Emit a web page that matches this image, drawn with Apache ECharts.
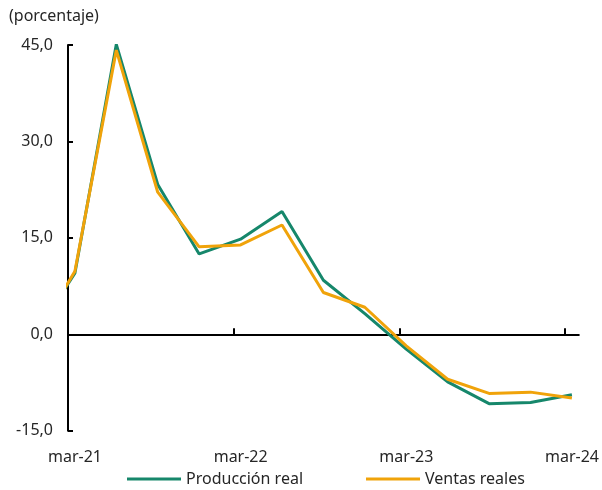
<!DOCTYPE html>
<html>
<head>
<meta charset="utf-8">
<script src="https://cdn.jsdelivr.net/npm/echarts@6/dist/echarts.min.js"></script>
<style>html,body{margin:0;padding:0;background:#fff;}#c{width:602px;height:490px;}</style>
</head>
<body>
<div id="c"></div>
<script>
// Quarterly observations (first one lies before the axis start and is clipped)
var quarters = ['dic-20','mar-21','jun-21','sep-21','dic-21','mar-22','jun-22','sep-22','dic-22','mar-23','jun-23','sep-23','dic-23','mar-24'];
var produccion = [-0.5, 9.5, 45.1, 23.3, 12.5, 14.8, 19.1, 8.4, 3.2, -2.3, -7.4, -10.8, -10.6, -9.4];
var ventas     = [-1.0, 9.8, 44.2, 22.1, 13.6, 13.9, 17.0, 6.5, 4.2, -1.8, -7.0, -9.2, -9.0, -9.9];
var xLabels = ['mar-21','mar-22','mar-23','mar-24'];
var xTickMonths = [0, 12, 24, 36];
var yTicks = [-15, 0, 15, 30, 45];

// month position: months since start of mar-21 (category centre)
function pos(i){ return 3*i - 2.5; }
function pairs(arr){ return arr.map(function(v,i){ return [pos(i), v]; }); }

var FONT = 'Noto Sans';
var TXT = '#262626';
var chart = echarts.init(document.getElementById('c'));
chart.setOption({
  animation: false,
  textStyle: {fontFamily: FONT},
  title: {text: '(porcentaje)', left: 9, top: 8, padding: 0,
    textStyle: {fontFamily: FONT, fontSize: 16, fontWeight: 'normal', color: TXT}},
  grid: {left: 68, right: 22.5, top: 45, bottom: 59.3, containLabel: false},
  legend: {top: 466, left: 122, itemGap: 63, itemWidth: 54, itemHeight: 3, icon: 'rect',
    textStyle: {fontFamily: FONT, fontSize: 16, color: TXT},
    data: ['Producción real', 'Ventas reales']},
  xAxis: [{
    type: 'value', min: 0, max: 37, interval: 12,
    axisLine: {onZero: true, lineStyle: {color: '#000', width: 2}},
    axisTick: {show: true, inside: true, length: 6, customValues: xTickMonths, lineStyle: {color: '#000', width: 2}},
    axisLabel: {show: false}, splitLine: {show: false}
  }, {
    type: 'value', min: 0, max: 37, interval: 12, position: 'bottom',
    axisLine: {show: false, onZero: false}, axisTick: {show: false}, splitLine: {show: false},
    axisLabel: {show: true, margin: 19, fontFamily: FONT, fontSize: 16, color: TXT,
      padding: [0, 0, 0, 14], hideOverlap: false, customValues: xTickMonths,
      formatter: function(v){ var k = xTickMonths.indexOf(v); return k >= 0 ? xLabels[k] : ''; }}
  }],
  yAxis: {
    type: 'value', min: yTicks[0], max: yTicks[yTicks.length-1], interval: 15,
    axisLine: {show: true, lineStyle: {color: '#000', width: 2}},
    axisTick: {show: true, inside: true, length: 5, lineStyle: {color: '#000', width: 2}},
    splitLine: {show: false},
    axisLabel: {margin: 15, fontFamily: FONT, fontSize: 16, color: TXT,
      formatter: function(v){ return v.toFixed(1).replace('.', ','); }}
  },
  series: [{
    name: 'Producción real', type: 'line', xAxisIndex: 0, data: pairs(produccion),
    showSymbol: false, clip: true, lineStyle: {color: '#16876b', width: 3}, itemStyle: {color: '#16876b'}
  }, {
    name: 'Ventas reales', type: 'line', xAxisIndex: 0, data: pairs(ventas),
    showSymbol: false, clip: true, lineStyle: {color: '#f0a30a', width: 3}, itemStyle: {color: '#f0a30a'}
  }]
});
</script>
</body>
</html>
